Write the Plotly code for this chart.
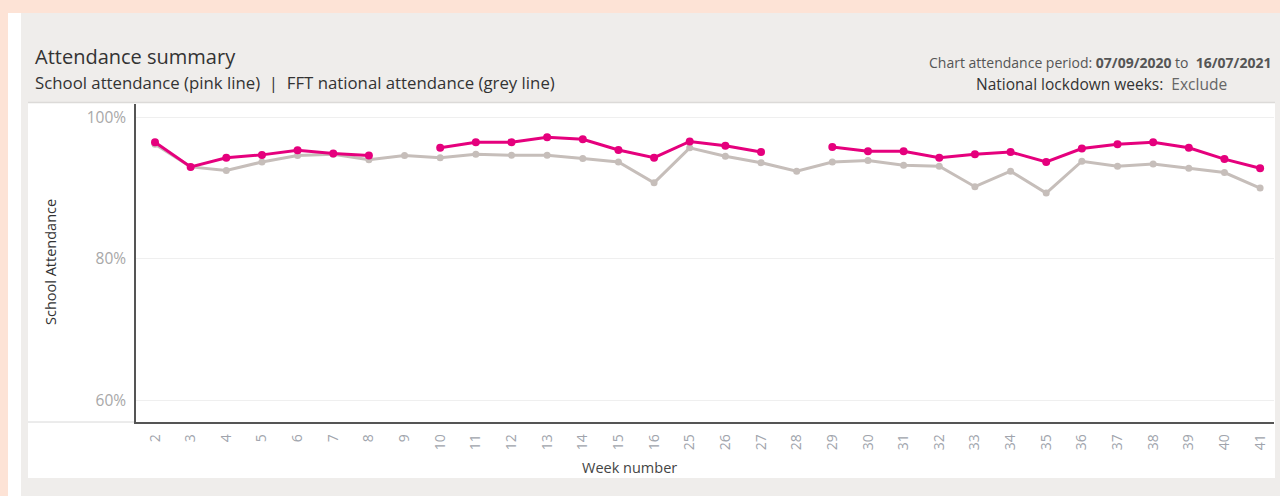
import plotly.graph_objects as go

weeks = ["2", "3", "4", "5", "6", "7", "8", "9", "10", "11", "12", "13", "14", "15", "16",
         "25", "26", "27", "28", "29", "30", "31", "32", "33", "34", "35", "36", "37", "38",
         "39", "40", "41"]
school = [96.5, 93.0, 94.3, 94.7, 95.35, 94.9, 94.6, None, 95.7, 96.5, 96.5, 97.2, 96.9, 95.4, 94.3,
          96.6, 96.0, 95.1, None, 95.8, 95.2, 95.2, 94.3, 94.8, 95.1, 93.7, 95.6, 96.2, 96.5,
          95.7, 94.1, 92.8]
national = [96.2, 93.0, 92.5, 93.7, 94.6, 94.8, 94.0, 94.6, 94.3, 94.8, 94.65, 94.65, 94.2, 93.7, 90.75,
            95.7, 94.5, 93.6, 92.4, 93.7, 93.9, 93.25, 93.1, 90.2, 92.4, 89.3, 93.8, 93.1, 93.4,
            92.8, 92.2, 90.0]
y_ticks = [60, 80, 100]
y_tick_text = [f"{v}%" for v in y_ticks]

W, H = 1280, 496
L, R, T, B = 136, 6, 104, 74
PW, PH = W - L - R, H - T - B


def px(x):
    return (x - L) / PW


def py(y):
    return (H - B - y) / PH


FONT = "Open Sans"

fig = go.Figure()
fig.add_trace(go.Scatter(
    x=weeks, y=national, mode="lines+markers", name="FFT national attendance",
    line=dict(color="#c6beba", width=3), marker=dict(color="#c6beba", size=7),
    connectgaps=False, hoverinfo="x+y"))
fig.add_trace(go.Scatter(
    x=weeks, y=school, mode="lines+markers", name="School attendance",
    line=dict(color="#e5007d", width=3), marker=dict(color="#e5007d", size=8),
    connectgaps=False, hoverinfo="x+y"))

shapes = [
    # grey panel
    dict(type="rect", xref="paper", yref="paper", x0=px(21), x1=px(1281), y0=py(13), y1=py(497),
         fillcolor="#efedeb", line=dict(width=0), layer="below"),
    # white strip at left
    dict(type="rect", xref="paper", yref="paper", x0=px(8), x1=px(21), y0=py(13), y1=py(497),
         fillcolor="#ffffff", line=dict(width=0), layer="below"),
    # white chart box
    dict(type="rect", xref="paper", yref="paper", x0=px(28), x1=px(1275), y0=py(103), y1=py(478),
         fillcolor="#ffffff", line=dict(width=0), layer="below"),
    # faint top border of chart box
    dict(type="line", xref="paper", yref="paper", x0=px(28), x1=px(1275), y0=py(102.5), y1=py(102.5),
         line=dict(color="#dcdad8", width=1.5), layer="below"),
    # faint baseline left of axis
    dict(type="line", xref="paper", yref="paper", x0=px(28), x1=px(136), y0=py(422), y1=py(422),
         line=dict(color="#d8d8d8", width=1), layer="below"),
]

annotations = [
    dict(text="Attendance summary", x=px(33), y=py(56), xref="paper", yref="paper",
         xanchor="left", yanchor="middle", showarrow=False,
         font=dict(family=FONT, size=20, color="#333333")),
    dict(text="School attendance (pink line)  |  FFT national attendance (grey line)",
         x=px(33), y=py(83), xref="paper", yref="paper", xanchor="left", yanchor="middle",
         showarrow=False, font=dict(family=FONT, size=16.8, color="#333333")),
    dict(text="Chart attendance period: <b>07/09/2020</b> to  <b>16/07/2021</b>",
         x=px(1273), y=py(62), xref="paper", yref="paper", xanchor="right", yanchor="middle",
         showarrow=False, font=dict(family=FONT, size=14, color="#555555")),
    dict(text="National lockdown weeks:  <span style='color:#666666'>Exclude</span>",
         x=px(1229), y=py(84), xref="paper", yref="paper", xanchor="right", yanchor="middle",
         showarrow=False, font=dict(family=FONT, size=15.5, color="#333333")),
    dict(text="School Attendance", x=px(50), y=py(262), xref="paper", yref="paper",
         xanchor="center", yanchor="middle", textangle=-90, showarrow=False,
         font=dict(family=FONT, size=14.5, color="#333333")),
    dict(text="Week number", x=px(629), y=py(467), xref="paper", yref="paper",
         xanchor="center", yanchor="middle", showarrow=False,
         font=dict(family=FONT, size=14.5, color="#444444")),
]

fig.update_layout(
    width=W, height=H,
    margin=dict(l=L, r=R, t=T, b=B, pad=0),
    paper_bgcolor="#fde3d6",
    plot_bgcolor="#ffffff",
    showlegend=False,
    shapes=shapes,
    annotations=annotations,
    font=dict(family=FONT),
)
fig.update_xaxes(
    type="category", categoryorder="array", categoryarray=weeks,
    tickangle=-90, tickfont=dict(family=FONT, size=14, color="#a0a4ac"),
    showline=True, linecolor="#555555", linewidth=1.5,
    showgrid=False, ticks="", ticklabelstandoff=5,
    range=[-0.533, 31.39],
)
fig.update_yaxes(
    range=[56.9, 101.9], tickvals=y_ticks, ticktext=y_tick_text,
    tickfont=dict(family=FONT, size=15.5, color="#a8a8a8"),
    showline=True, linecolor="#555555", linewidth=1.5,
    showgrid=True, gridcolor="#efefef", gridwidth=1, zeroline=False,
    ticks="", ticklabelstandoff=5,
)

fig.write_html(
    "out.html",
    config={"displayModeBar": False},
    post_script="document.body.style.margin='0';document.body.style.overflow='hidden';",
)
